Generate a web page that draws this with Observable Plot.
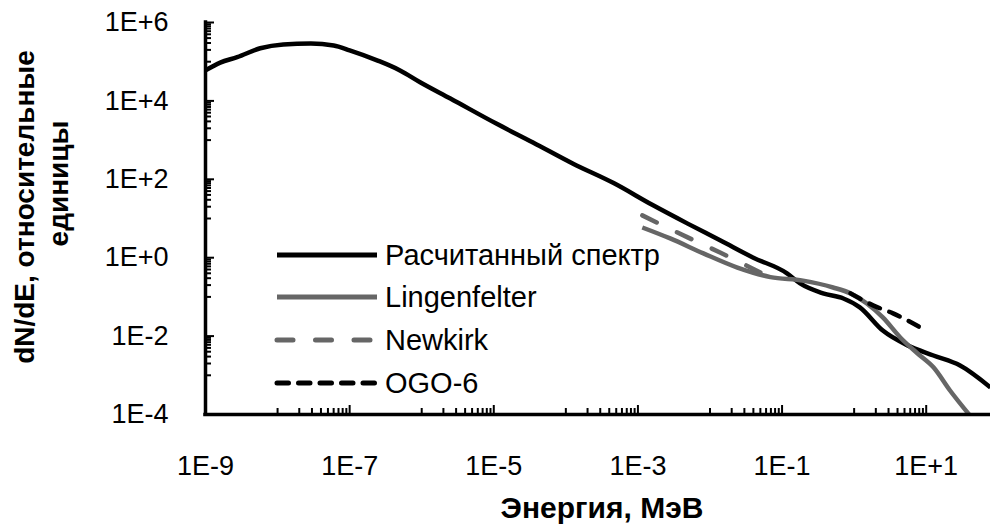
<!DOCTYPE html>
<html><head><meta charset="utf-8">
<script src="https://cdn.jsdelivr.net/npm/d3@7"></script>
<script src="https://cdn.jsdelivr.net/npm/@observablehq/plot@0.6"></script>
<style>
body{margin:0;background:#fff;}
#wrap{position:relative;width:990px;height:526px;font-family:"Liberation Sans",Arial,sans-serif;}
#overlay{position:absolute;left:0;top:0;pointer-events:none;}
</style></head><body><div id="wrap"></div>
<script>
// Расчитанный спектр
const calcE = [1e-9,1.6e-9,2.75e-9,5.75e-9,1.2e-8,2.9e-8,6.0e-8,1.0e-7,2.45e-7,5.0e-7,9.5e-7,2.5e-6,1.1e-5,3.5e-5,1.26e-4,4.6e-4,1.6e-3,4.9e-3,1.4e-2,4.0e-2,0.117,0.178,0.37,0.71,1.2,2.5,5.5,12.6,29.5,78];
const calcY = [6.0e4,9.5e4,1.3e5,2.2e5,2.75e5,2.9e5,2.6e5,1.95e5,1.07e5,6.0e4,3.0e4,1.15e4,2.6e3,870,250,80,22,7.4,2.75,1.0,0.40,0.22,0.123,0.091,0.054,0.0138,0.0058,0.0032,0.00178,0.00049];
// Lingenfelter
const lingE = [1.15e-3,2.8e-3,8.1e-3,0.024,0.069,0.195,0.51,0.89,1.5,2.5,4.4,7.6,12.6,21.4,40.7];
const lingY = [5.9,3.1,1.29,0.56,0.32,0.26,0.174,0.123,0.068,0.030,0.0091,0.0036,0.0016,0.00041,0.000093];
// Newkirk
const newkE = [1.15e-3,4.9e-3,0.0138,0.05];
const newkY = [12,3.3,1.35,0.42];
// OGO-6
const ogoE = [0.89,1.86,3.47,8.3];
const ogoY = [0.123,0.060,0.038,0.0166];

const seriesNames = ["Расчитанный спектр","Lingenfelter","Newkirk","OGO-6"];
const xMajor = [1e-9,1e-7,1e-5,1e-3,1e-1,1e1];
const xLabels = ["1E-9","1E-7","1E-5","1E-3","1E-1","1E+1"];
const yMajor = [1e6,1e4,1e2,1e0,1e-2,1e-4];
const yLabels = ["1E+6","1E+4","1E+2","1E+0","1E-2","1E-4"];
const xTitle = "Энергия, МэВ";
const yTitle1 = "dN/dE, относительные";
const yTitle2 = "единицы";

const xDomain = [1e-9, 78];
const yDomain = [1e-4, 1e6];

const zip = (E, Y) => E.map((e, i) => ({E: e, v: Y[i]}));
const minorOf = (majors, dom) => majors.flatMap(m => d3.range(1, 10).map(k => k * m / 10))
  .filter(v => v >= dom[0] * 0.999 && v <= dom[1] * 1.001);
const xMinor = minorOf(xMajor, xDomain);
const yMinor = minorOf(yMajor, yDomain);
const xLab = d => xLabels[xMajor.indexOf(d)];
const yLab = d => yLabels[yMajor.indexOf(d)];

const styles = [
  {stroke: "#000", strokeWidth: 4.5, strokeDasharray: null},
  {stroke: "#666", strokeWidth: 4.5, strokeDasharray: null},
  {stroke: "#666", strokeWidth: 4.5, strokeDasharray: "16,22.5"},
  {stroke: "#000", strokeWidth: 4.5, strokeDasharray: "11.5,10"}
];
const datasets = [zip(calcE, calcY), zip(lingE, lingY), zip(newkE, newkY), zip(ogoE, ogoY)];
const FONT = "'Liberation Sans', Arial, sans-serif";

const chart = Plot.plot({
  width: 990, height: 526,
  marginLeft: 205, marginRight: 0, marginTop: 22, marginBottom: 112,
  x: {type: "log", domain: xDomain},
  y: {type: "log", domain: yDomain},
  style: {fontFamily: FONT, fontSize: "27px", color: "#000", background: "#fff", overflow: "visible"},
  marks: [
    Plot.axisX({ticks: xMinor, tickSize: 6, dy: -6, tickFormat: () => "", label: null, strokeWidth: 2}),
    Plot.axisX({ticks: xMajor, tickSize: 9, dy: -9, tickFormat: () => "", label: null, strokeWidth: 2}),
    Plot.axisX({ticks: xMajor, tickSize: 0, tickPadding: 41, tickFormat: xLab, label: null}),
    Plot.axisY({ticks: yMinor, tickSize: 6, dx: 6, tickFormat: () => "", label: null, strokeWidth: 2}),
    Plot.axisY({ticks: yMajor, tickSize: 9, dx: 9, tickFormat: () => "", label: null, strokeWidth: 2}),
    Plot.axisY({ticks: yMajor, tickSize: 0, tickPadding: 37, tickFormat: yLab, label: null}),
    ...datasets.map((data, i) => Plot.line(data, {
      x: "E", y: "v", stroke: styles[i].stroke, strokeWidth: styles[i].strokeWidth,
      strokeDasharray: styles[i].strokeDasharray, strokeLinecap: i >= 2 ? "round" : "butt",
      strokeLinejoin: "round", curve: "monotone-x", clip: true
    })),
    Plot.ruleX([xDomain[0]], {stroke: "#000", strokeWidth: 3.5, strokeLinecap: "square"}),
    Plot.ruleY([yDomain[0]], {stroke: "#000", strokeWidth: 3.5, strokeLinecap: "square"})
  ]
});
const wrap = document.getElementById("wrap");
wrap.appendChild(chart);

// overlay: axis titles and legend
const ov = d3.select(wrap).append("svg").attr("id", "overlay").attr("width", 990).attr("height", 526)
  .attr("font-family", FONT);
ov.append("text").attr("x", 602).attr("y", 518).attr("text-anchor", "middle")
  .attr("font-size", 30).attr("font-weight", "bold").text(xTitle);
ov.append("text").attr("transform", "translate(24.5,207) rotate(-90)").attr("dy", "0.35em")
  .attr("text-anchor", "middle").attr("font-size", 28).attr("font-weight", "bold").text(yTitle1);
ov.append("text").attr("transform", "translate(58.5,183.5) rotate(-90)").attr("dy", "0.35em")
  .attr("text-anchor", "middle").attr("font-size", 28).attr("font-weight", "bold").text(yTitle2);

const rowY = [255, 297, 340, 383];
seriesNames.forEach((name, i) => {
  const g = ov.append("g");
  g.append("line").attr("x1", 277).attr("x2", 377).attr("y1", rowY[i]).attr("y2", rowY[i])
    .attr("stroke", styles[i].stroke).attr("stroke-width", styles[i].strokeWidth + 0.5)
    .attr("stroke-dasharray", styles[i].strokeDasharray).attr("stroke-linecap", i >= 2 ? "round" : "butt");
  g.append("text").attr("x", 385).attr("y", rowY[i] + 10).attr("font-size", 29).text(name);
});
</script></body></html>
